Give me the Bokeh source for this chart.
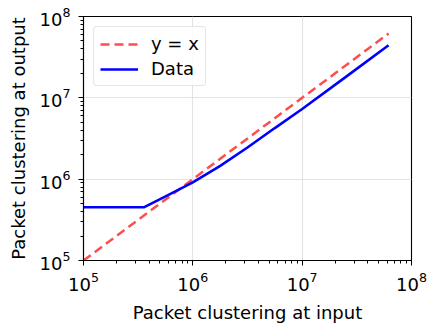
from bokeh.plotting import figure
from bokeh.models import Legend, LegendItem
from bokeh.embed import file_html
from bokeh.resources import INLINE

# Packet clustering measured at input vs. output (log-log)
x_data = [1e5, 3.6e5, 6.31e5, 1e6, 1.78e6, 3.16e6, 5.62e6, 1e7, 2.51e7, 6.17e7]
y_data = [4.52e5, 4.52e5, 6.65e5, 9.12e5, 1.46e6, 2.45e6, 4.25e6, 7.28e6, 1.81e7, 4.44e7]

# Reference diagonal y = x
x_ref = [1e5, 6.17e7]
y_ref = [1e5, 6.17e7]

FONT = "DejaVu Sans"

p = figure(
    width=431, height=325,
    x_axis_type="log", y_axis_type="log",
    x_range=(1e5, 1e8), y_range=(1e5, 1e8),
    output_backend="svg", toolbar_location=None,
    min_border_left=83, min_border_right=20,
    min_border_top=16, min_border_bottom=62,
)
p.background_fill_color = "white"
p.border_fill_color = "white"
p.outline_line_color = "black"
p.outline_line_width = 1.1

ref = p.line(x_ref, y_ref, line_color="#ff4d4d", line_width=2.5, line_dash="9 5")
dat = p.line(x_data, y_data, line_color="#0000ff", line_width=2.6)

for ax in (p.xaxis[0], p.yaxis[0]):
    ax.major_label_text_font = FONT
    ax.major_label_text_font_size = "18px"
    ax.major_label_text_color = "black"
    ax.axis_label_text_font = FONT
    ax.axis_label_text_font_size = "18px"
    ax.axis_label_text_font_style = "normal"
    ax.axis_label_text_color = "black"
    ax.axis_line_color = "black"
    ax.axis_line_width = 1.1
    ax.major_tick_line_color = "black"
    ax.minor_tick_line_color = "black"
    ax.major_tick_in = 0
    ax.major_tick_out = 5
    ax.minor_tick_in = 0
    ax.minor_tick_out = 3

p.xaxis.axis_label = "Packet clustering at input"
p.yaxis.axis_label = "Packet clustering at output"
p.xaxis.major_label_standoff = 6
p.yaxis.major_label_standoff = 8
p.xaxis.axis_label_standoff = 8
p.yaxis.axis_label_standoff = 8

p.grid.grid_line_color = "#e3e3e3"
p.grid.grid_line_width = 1.1

legend = Legend(
    items=[LegendItem(label="y = x", renderers=[ref]),
           LegendItem(label="Data", renderers=[dat])],
    location="top_left",
    label_text_font=FONT,
    label_text_font_size="18px",
    label_text_color="black",
    glyph_width=38,
    label_standoff=13,
    padding=6,
    spacing=4,
    margin=10,
    border_line_color="#cccccc",
    border_line_width=1.2,
    background_fill_alpha=0.8,
)
if "border_radius" in Legend.properties():
    legend.border_radius = 4
p.add_layout(legend)

open("out.html", "w").write(file_html(p, INLINE))
